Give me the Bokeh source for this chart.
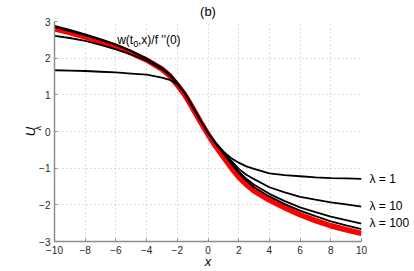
from bokeh.plotting import figure
from bokeh.models import Range1d, FixedTicker, Label, LinearAxis
from bokeh.embed import file_html
from bokeh.resources import INLINE

# ---- data ----
x_pts = [-10, -9, -8, -7, -6, -5, -4, -3, -2.5, -2, -1.5, -1, -0.5, 0, 0.5, 1, 1.5, 2, 2.5, 3, 4, 5, 6, 7, 8, 9, 10]

w_ref = [2.80, 2.70, 2.58, 2.45, 2.31, 2.14, 1.95, 1.70, 1.52, 1.27, 0.99, 0.64, 0.27, -0.08, -0.40, -0.69, -0.98, -1.24, -1.45, -1.62, -1.87, -2.08, -2.27, -2.43, -2.57, -2.68, -2.78]
u_lam1 = [1.67, 1.66, 1.65, 1.63, 1.61, 1.58, 1.55, 1.47, 1.41, 1.29, 1.04, 0.67, 0.31, -0.03, -0.31, -0.55, -0.72, -0.85, -0.95, -1.02, -1.14, -1.19, -1.22, -1.25, -1.27, -1.28, -1.29]
u_lam10 = [2.61, 2.55, 2.47, 2.36, 2.24, 2.10, 1.93, 1.70, 1.53, 1.31, 1.04, 0.67, 0.31, -0.03, -0.31, -0.55, -0.79, -1.02, -1.18, -1.30, -1.52, -1.66, -1.78, -1.86, -1.93, -1.99, -2.05]
u_lam100 = [2.85, 2.74, 2.63, 2.50, 2.36, 2.19, 1.98, 1.73, 1.56, 1.32, 1.05, 0.68, 0.32, -0.04, -0.32, -0.57, -0.84, -1.09, -1.29, -1.45, -1.70, -1.90, -2.07, -2.20, -2.32, -2.42, -2.51]
u_lam1000 = [2.88, 2.77, 2.65, 2.52, 2.38, 2.20, 1.99, 1.74, 1.57, 1.33, 1.05, 0.68, 0.32, -0.04, -0.33, -0.59, -0.87, -1.12, -1.34, -1.52, -1.77, -1.98, -2.16, -2.31, -2.45, -2.56, -2.66]

x_ticks = [-10, -8, -6, -4, -2, 0, 2, 4, 6, 8, 10]
y_ticks = [-3, -2, -1, 0, 1, 2, 3]
curve_labels = ["λ = 1", "λ = 10", "λ = 100"]
curve_label_y = [-1.29, -2.03, -2.49]

FONT = "Liberation Sans"

p = figure(width=414, height=271, output_backend="svg", toolbar_location=None,
           x_range=Range1d(-10, 10), y_range=Range1d(-3, 3),
           min_border_left=54, min_border_right=53, min_border_top=21, min_border_bottom=30)
p.outline_line_color = None
p.background_fill_color = "white"
p.border_fill_color = "white"

for ax, ticks in ((p.xaxis, x_ticks), (p.yaxis, y_ticks)):
    ax.ticker = FixedTicker(ticks=ticks)
    ax.axis_line_color = "#8c8c8c"
    ax.axis_line_width = 1.5
    ax.major_tick_line_color = "#8c8c8c"
    ax.major_tick_in = 3
    ax.major_tick_out = 0
    ax.minor_tick_line_color = None
    ax.major_label_text_font = FONT
    ax.major_label_text_font_size = "10px"
    ax.major_label_text_color = "#262626"
p.xaxis.major_label_standoff = 4
p.yaxis.major_label_standoff = 4

# x axis label
p.xaxis.axis_label = "x"
p.xaxis.axis_label_text_font = FONT
p.xaxis.axis_label_text_font_size = "13px"
p.xaxis.axis_label_text_font_style = "italic"
p.xaxis.axis_label_text_color = "black"
p.xaxis.axis_label_standoff = -3

# subscript lambda as label of the inner y axis
p.yaxis.axis_label = "\u2002\u2009λ"
p.yaxis.axis_label_text_font = FONT
p.yaxis.axis_label_text_font_size = "9px"
p.yaxis.axis_label_text_font_style = "normal"
p.yaxis.axis_label_text_color = "black"
p.yaxis.axis_label_text_align = "left"
p.yaxis.axis_label_standoff = -7

# outer y axis carrying the "U"
u_axis = LinearAxis(ticker=FixedTicker(ticks=[]), axis_line_color=None,
                    major_tick_line_color=None, minor_tick_line_color=None,
                    major_tick_in=0, major_tick_out=0,
                    major_label_text_font_size="0px",
                    axis_label="U", axis_label_text_font=FONT,
                    axis_label_text_font_size="13px", axis_label_text_font_style="italic",
                    axis_label_text_color="black", axis_label_standoff=-7)
p.add_layout(u_axis, "left")

# right axis carrying the curve labels
r_axis = LinearAxis(ticker=FixedTicker(ticks=curve_label_y), axis_line_color=None,
                    major_tick_line_color=None, minor_tick_line_color=None,
                    major_tick_in=0, major_tick_out=0,
                    major_label_overrides=dict(zip(curve_label_y, curve_labels)),
                    major_label_text_font=FONT, major_label_text_font_size="12px",
                    major_label_text_color="black", major_label_standoff=8)
p.add_layout(r_axis, "right")

# top axis carrying the panel tag "(b)"
t_axis = LinearAxis(ticker=FixedTicker(ticks=[0]), axis_line_color=None,
                    major_tick_line_color=None, minor_tick_line_color=None,
                    major_tick_in=0, major_tick_out=0,
                    major_label_overrides={0: "(b)"},
                    major_label_text_font=FONT, major_label_text_font_size="13px",
                    major_label_text_color="black", major_label_standoff=3)
p.add_layout(t_axis, "above")

for g in (p.xgrid, p.ygrid):
    g.grid_line_color = "#bdbdbd"
    g.grid_line_dash = "1 3"
    g.grid_line_width = 1
p.xgrid.ticker = FixedTicker(ticks=x_ticks)
p.ygrid.ticker = FixedTicker(ticks=y_ticks)

p.line(x_pts, w_ref, line_color="red", line_width=5.5)
for ys in (u_lam1, u_lam10, u_lam100, u_lam1000):
    p.line(x_pts, ys, line_color="black", line_width=1.8)

# annotation w(t_0,x)/f''(0)
p.add_layout(Label(x=-5.92, y=2.485, text="w(t", text_font=FONT, text_font_size="12px",
                   text_baseline="alphabetic", text_color="black"))
p.add_layout(Label(x=-4.87, y=2.39, text="0", text_font=FONT, text_font_size="9px",
                   text_baseline="alphabetic", text_color="black"))
p.add_layout(Label(x=-4.56, y=2.485, text=",x)/f ''(0)", text_font=FONT, text_font_size="12px",
                   text_baseline="alphabetic", text_color="black"))

open("out.html", "w").write(file_html(p, INLINE))
